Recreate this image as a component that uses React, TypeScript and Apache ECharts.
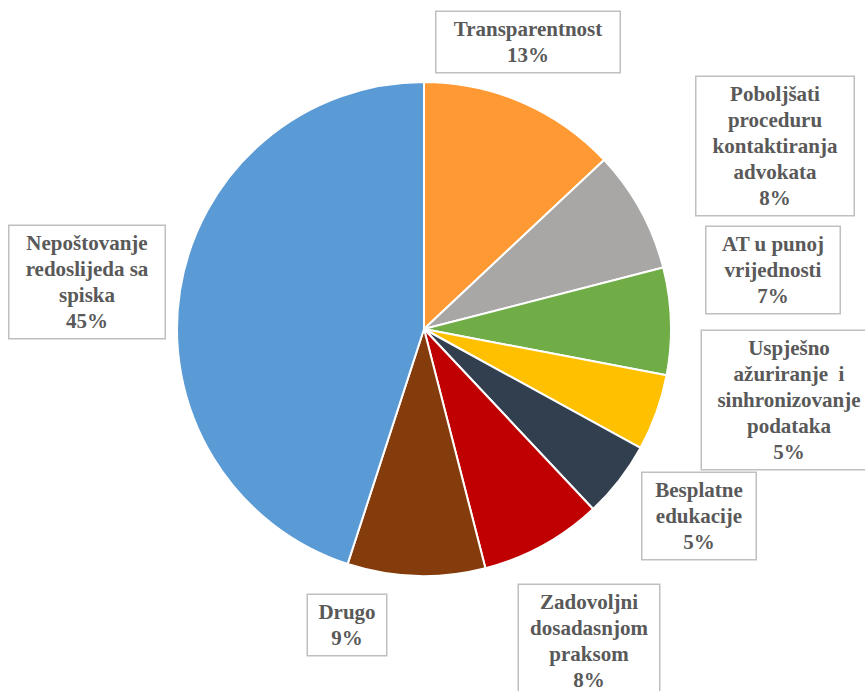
import React, { useEffect, useRef } from "react";
import * as echarts from "echarts";

const categories = [
  "Transparentnost",
  "Poboljšati proceduru kontaktiranja advokata",
  "AT u punoj vrijednosti",
  "Uspješno ažuriranje i sinhronizovanje podataka",
  "Besplatne edukacije",
  "Zadovoljni dosadasnjom praksom",
  "Drugo",
  "Nepoštovanje redoslijeda sa spiska",
];
const labelTexts = [
  "Transparentnost",
  "Poboljšati\nproceduru\nkontaktiranja\nadvokata",
  "AT u punoj\nvrijednosti",
  "Uspješno\nažuriranje  i\nsinhronizovanje\npodataka",
  "Besplatne\nedukacije",
  "Zadovoljni\ndosadasnjom\npraksom",
  "Drugo",
  "Nepoštovanje\nredoslijeda sa\nspiska",
];
const values = [13, 8, 7, 5, 5, 8, 9, 45];
const colors = ["#FF9933", "#A9A7A6", "#70AD47", "#FFC000", "#323F4F", "#C00000", "#843C0C", "#5B9BD5"];

// label box layout (center x, center y, box width)
const labelBoxes = [
  [528, 42, 183],
  [775, 146, 157],
  [773, 270, 133],
  [789, 400, 174],
  [699, 516, 113],
  [589, 641, 140],
  [347, 625, 78],
  [87, 282, 155],
];

export default function App() {
  const ref = useRef<HTMLDivElement>(null);
  useEffect(() => {
    if (!ref.current) return;
    const chart = echarts.init(ref.current, null, { renderer: "svg" });
    chart.setOption({
      animation: false,
      backgroundColor: "#ffffff",
      series: [
        {
          type: "pie",
          center: [424, 329],
          radius: 247,
          startAngle: 90,
          clockwise: true,
          avoidLabelOverlap: false,
          itemStyle: { borderColor: "#ffffff", borderWidth: 2 },
          labelLine: { show: false },
          label: {
            show: true,
            position: "outside",
            fontFamily: "Liberation Serif",
            fontWeight: "bold",
            fontSize: 21,
            lineHeight: 26,
            color: "#595959",
            align: "center",
            backgroundColor: "#ffffff",
            borderColor: "#BFBFBF",
            borderWidth: 1.5,
            padding: [4, 6],
          },
          labelLayout: (p: any) => {
            const b = labelBoxes[p.dataIndex];
            return { x: b[0], y: b[1], align: "center", verticalAlign: "middle", hideOverlap: false };
          },
          data: categories.map((name, i) => ({
            name,
            value: values[i],
            itemStyle: { color: colors[i] },
            label: {
              formatter: labelTexts[i] + "\n" + values[i] + "%",
              width: labelBoxes[i][2] - 12,
            },
          })),
        },
      ],
    });
    return () => chart.dispose();
  }, []);
  return (
    <div
      ref={ref}
      style={{ position: "fixed", left: 0, top: 0, width: 865, height: 691 }}
    />
  );
}
